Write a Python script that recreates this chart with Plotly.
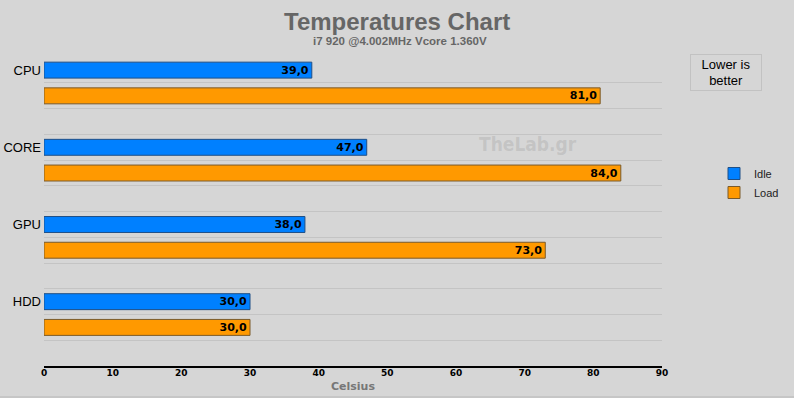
import plotly.graph_objects as go

categories = ["CPU", "CORE", "GPU", "HDD"]
idle = [39.0, 47.0, 38.0, 30.0]
load = [81.0, 84.0, 73.0, 30.0]
x_ticks = [0, 10, 20, 30, 40, 50, 60, 70, 80, 90]

slots_per_cat = 3
y_idle = [slots_per_cat * i for i in range(len(categories))]
y_load = [slots_per_cat * i + 1 for i in range(len(categories))]
n_slots = slots_per_cat * len(categories)

def fmt(v):
    return f"{v:.1f}".replace(".", ",")

bg = "#D6D6D6"
W, H = 794, 398
L, R, T, B = 44, 132, 57, 32
PW, PH = W - L - R, H - T - B

def px(x):
    return (x - L) / PW

def py(y):
    return (H - B - y) / PH

label_font = dict(family="DejaVu Sans", size=11, color="black")

fig = go.Figure()
fig.add_trace(go.Bar(
    x=idle, y=y_idle, orientation="h", name="Idle",
    width=0.62,
    marker=dict(color="#0080FF", line=dict(color="#1f4f86", width=1)),
    text=[f"<b>{fmt(v)}</b>" for v in idle],
    textposition="inside", insidetextanchor="end", constraintext="none",
    textfont=label_font, cliponaxis=False,
))
fig.add_trace(go.Bar(
    x=load, y=y_load, orientation="h", name="Load",
    width=0.62,
    marker=dict(color="#FF9900", line=dict(color="#7a5a2a", width=1)),
    text=[f"<b>{fmt(v)}</b>" for v in load],
    textposition="inside", insidetextanchor="end", constraintext="none",
    textfont=label_font, cliponaxis=False,
))

fig.update_layout(
    width=W, height=H,
    paper_bgcolor=bg, plot_bgcolor=bg,
    margin=dict(l=L, r=R, t=T, b=B, autoexpand=False),
    barmode="overlay",
    showlegend=True,
    legend=dict(
        x=px(714), y=py(159), xanchor="left", yanchor="top",
        font=dict(family="Liberation Sans", size=11, color="#222"),
        traceorder="normal", bgcolor="rgba(0,0,0,0)",
        itemwidth=30, tracegroupgap=0,
    ),
    uniformtext=dict(mode=False),
)

fig.add_annotation(text="<b>Temperatures Chart</b>", xref="paper", yref="paper",
                   x=px(397), y=py(21), showarrow=False,
                   font=dict(family="Liberation Sans", size=24, color="#666666"),
                   xanchor="center", yanchor="middle")
fig.add_annotation(text="<b>i7 920 @4.002MHz Vcore 1.360V</b>", xref="paper", yref="paper",
                   x=px(400), y=py(41), showarrow=False,
                   font=dict(family="Liberation Sans", size=11.5, color="#666666"),
                   xanchor="center", yanchor="middle")
fig.add_annotation(text="Lower is<br>better", xref="paper", yref="paper",
                   x=px(726), y=py(72), showarrow=False,
                   font=dict(family="Liberation Sans", size=13, color="black"),
                   xanchor="center", yanchor="middle",
                   bordercolor="#C2C2C2", borderwidth=1, borderpad=2,
                   width=66, height=31, bgcolor=bg)
fig.add_annotation(text="<b>TheLab.gr</b>", xref="paper", yref="paper",
                   x=px(528), y=py(144), showarrow=False,
                   font=dict(family="DejaVu Sans Condensed", size=19, color="rgba(150,150,150,0.3)"),
                   xanchor="center", yanchor="middle")

fig.add_shape(type="line", xref="paper", yref="paper",
              x0=px(0), x1=px(W), y0=py(397), y1=py(397),
              line=dict(color="#C6C6C6", width=2))

fig.update_xaxes(
    range=[0, 90], tickvals=x_ticks, ticktext=[f"<b>{t}</b>" for t in x_ticks],
    tickfont=dict(family="DejaVu Sans", size=9, color="black"),
    showgrid=False, zeroline=False, automargin=False,
    showline=True, linecolor="black", linewidth=2,
    ticks="", ticklabelstandoff=-3,
    title=dict(text="<b>Celsius</b>", font=dict(family="DejaVu Sans", size=11, color="#777777"), standoff=6),
)
fig.update_yaxes(
    range=[n_slots - 0.5, -0.51],
    tickvals=y_idle, ticktext=categories,
    tickfont=dict(family="Liberation Sans", size=13, color="black"),
    showgrid=False, zeroline=False, showline=False, ticks="", automargin=False,
    ticklabelstandoff=2,
    minor=dict(tick0=0.5, dtick=1, showgrid=True, gridcolor="#C4C4C4", gridwidth=1),
)

fig.write_html("out.html", config={"displayModeBar": False})
with open("out.html", "r", encoding="utf-8") as f:
    html = f.read()
html = html.replace("<head>", "<head><style>html,body{margin:0;padding:0;background:#D6D6D6;}</style>", 1)
with open("out.html", "w", encoding="utf-8") as f:
    f.write(html)
